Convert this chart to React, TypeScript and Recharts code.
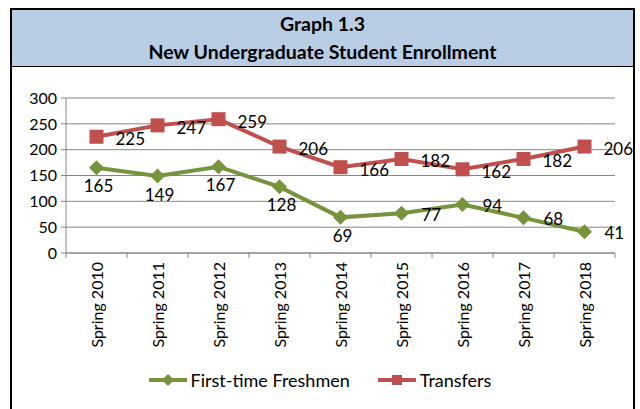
import React from "react";
import { LineChart, Line, XAxis, YAxis, CartesianGrid, Legend, LabelList } from "recharts";

const terms = [
  "Spring 2010",
  "Spring 2011",
  "Spring 2012",
  "Spring 2013",
  "Spring 2014",
  "Spring 2015",
  "Spring 2016",
  "Spring 2017",
  "Spring 2018",
];
const freshmen = [165, 149, 167, 128, 69, 77, 94, 68, 41];
const transfers = [225, 247, 259, 206, 166, 182, 162, 182, 206];
const yTicks = [0, 50, 100, 150, 200, 250, 300];

const data = terms.map((term, i) => ({
  term,
  freshmen: freshmen[i],
  transfers: transfers[i],
}));

const GREEN = "#77933C";
const RED = "#C0504D";
const GRID = "#868686";
const FONT = "Lato, 'Open Sans', sans-serif";

const W = 640;
const H = 343;
const MARGIN = { top: 32, right: 25, left: 20, bottom: 17 };
const Y_W = 46;
const band = (W - MARGIN.left - MARGIN.right - Y_W) / terms.length;

const XTick = (props: any) => {
  const { x, y, payload, index } = props;
  const isLast = index === terms.length - 1;
  return (
    <g>
      <line x1={x - band / 2} x2={x - band / 2} y1={y} y2={y + 5} stroke={GRID} />
      {isLast && <line x1={x + band / 2} x2={x + band / 2} y1={y} y2={y + 5} stroke={GRID} />}
      <text
        x={x}
        y={y + 9}
        transform={`rotate(-90 ${x} ${y + 9})`}
        textAnchor="end"
        dominantBaseline="central"
        fontSize={16}
        fontFamily={FONT}
        fill="#000"
      >
        {payload.value}
      </text>
    </g>
  );
};

const Square = (props: any) => {
  const { cx, cy } = props;
  if (cx == null || cy == null) return null;
  return <rect x={cx - 7} y={cy - 7} width={14} height={14} fill={RED} />;
};

const Diamond = (props: any) => {
  const { cx, cy } = props;
  if (cx == null || cy == null) return null;
  const r = 7.5;
  return <polygon points={`${cx},${cy - r} ${cx + r},${cy} ${cx},${cy + r} ${cx - r},${cy}`} fill={GREEN} />;
};

const TransferLabel = (props: any) => {
  const { x, y, value } = props;
  return (
    <text x={x + 19} y={y + 2} dominantBaseline="central" fontSize={17} fontFamily={FONT} fill="#000">
      {value}
    </text>
  );
};

const FreshmenLabel = (props: any) => {
  const { x, y, value, index } = props;
  if (index < 5) {
    return (
      <text x={x + 2} y={y + 18} textAnchor="middle" dominantBaseline="central" fontSize={17} fontFamily={FONT} fill="#000">
        {value}
      </text>
    );
  }
  return (
    <text x={x + 20} y={y + 1} dominantBaseline="central" fontSize={17} fontFamily={FONT} fill="#000">
      {value}
    </text>
  );
};

const LegendContent = () => (
  <div
    style={{
      height: 24,
      display: "flex",
      justifyContent: "center",
      alignItems: "center",
      fontFamily: FONT,
      fontSize: 18,
      color: "#000",
      paddingLeft: 4,
    }}
  >
    <svg width={40} height={14} style={{ marginRight: 3 }}>
      <line x1={1} x2={39} y1={7} y2={7} stroke={GREEN} strokeWidth={4} />
      <polygon points="20,1 26,7 20,13 14,7" fill={GREEN} />
    </svg>
    <span style={{ marginRight: 27 }}>First-time Freshmen</span>
    <svg width={40} height={14} style={{ marginRight: 3 }}>
      <line x1={1} x2={39} y1={7} y2={7} stroke={RED} strokeWidth={4} />
      <rect x={15} y={2} width={10} height={10} fill={RED} />
    </svg>
    <span>Transfers</span>
  </div>
);

export default function App() {
  return (
    <div style={{ position: "absolute", left: 0, top: 0, width: 640, height: 409, background: "#fff", overflow: "hidden" }}>
      <div
        style={{
          position: "absolute",
          left: 10,
          top: 8,
          width: 621,
          height: 420,
          border: "2px solid #000",
          boxSizing: "content-box",
        }}
      >
        <div
          style={{
            height: 56,
            background: "#B9CDE5",
            borderBottom: "1px solid #000",
            fontFamily: FONT,
            fontWeight: 700,
            fontSize: 19.5,
            textAlign: "center",
            color: "#000",
          }}
        >
          <div style={{ paddingTop: 2, lineHeight: "24px" }}>Graph 1.3</div>
          <div style={{ lineHeight: "28px", marginTop: 2 }}>New Undergraduate Student Enrollment</div>
        </div>
      </div>
      <div style={{ position: "absolute", left: 0, top: 66 }}>
        <LineChart width={W} height={H} data={data} margin={MARGIN}>
          <CartesianGrid horizontal vertical={false} stroke={GRID} />
          <XAxis
            dataKey="term"
            scale="band"
            interval={0}
            height={115}
            tickSize={0}
            tickMargin={0}
            tickLine={false}
            axisLine={{ stroke: GRID }}
            tick={<XTick />}
          />
          <YAxis
            domain={[0, 300]}
            ticks={yTicks}
            width={Y_W}
            axisLine={{ stroke: GRID }}
            tickLine={{ stroke: GRID }}
            tickSize={5}
            tickMargin={4}
            tick={{ fill: "#000", fontSize: 16, fontFamily: FONT }}
          />
          <Legend verticalAlign="bottom" content={<LegendContent />} />
          <Line
            dataKey="transfers"
            name="Transfers"
            stroke={RED}
            strokeWidth={4}
            dot={<Square />}
            activeDot={false}
            isAnimationActive={false}
          >
            <LabelList dataKey="transfers" content={<TransferLabel />} />
          </Line>
          <Line
            dataKey="freshmen"
            name="First-time Freshmen"
            stroke={GREEN}
            strokeWidth={4}
            dot={<Diamond />}
            activeDot={false}
            isAnimationActive={false}
          >
            <LabelList dataKey="freshmen" content={<FreshmenLabel />} />
          </Line>
        </LineChart>
      </div>
    </div>
  );
}
